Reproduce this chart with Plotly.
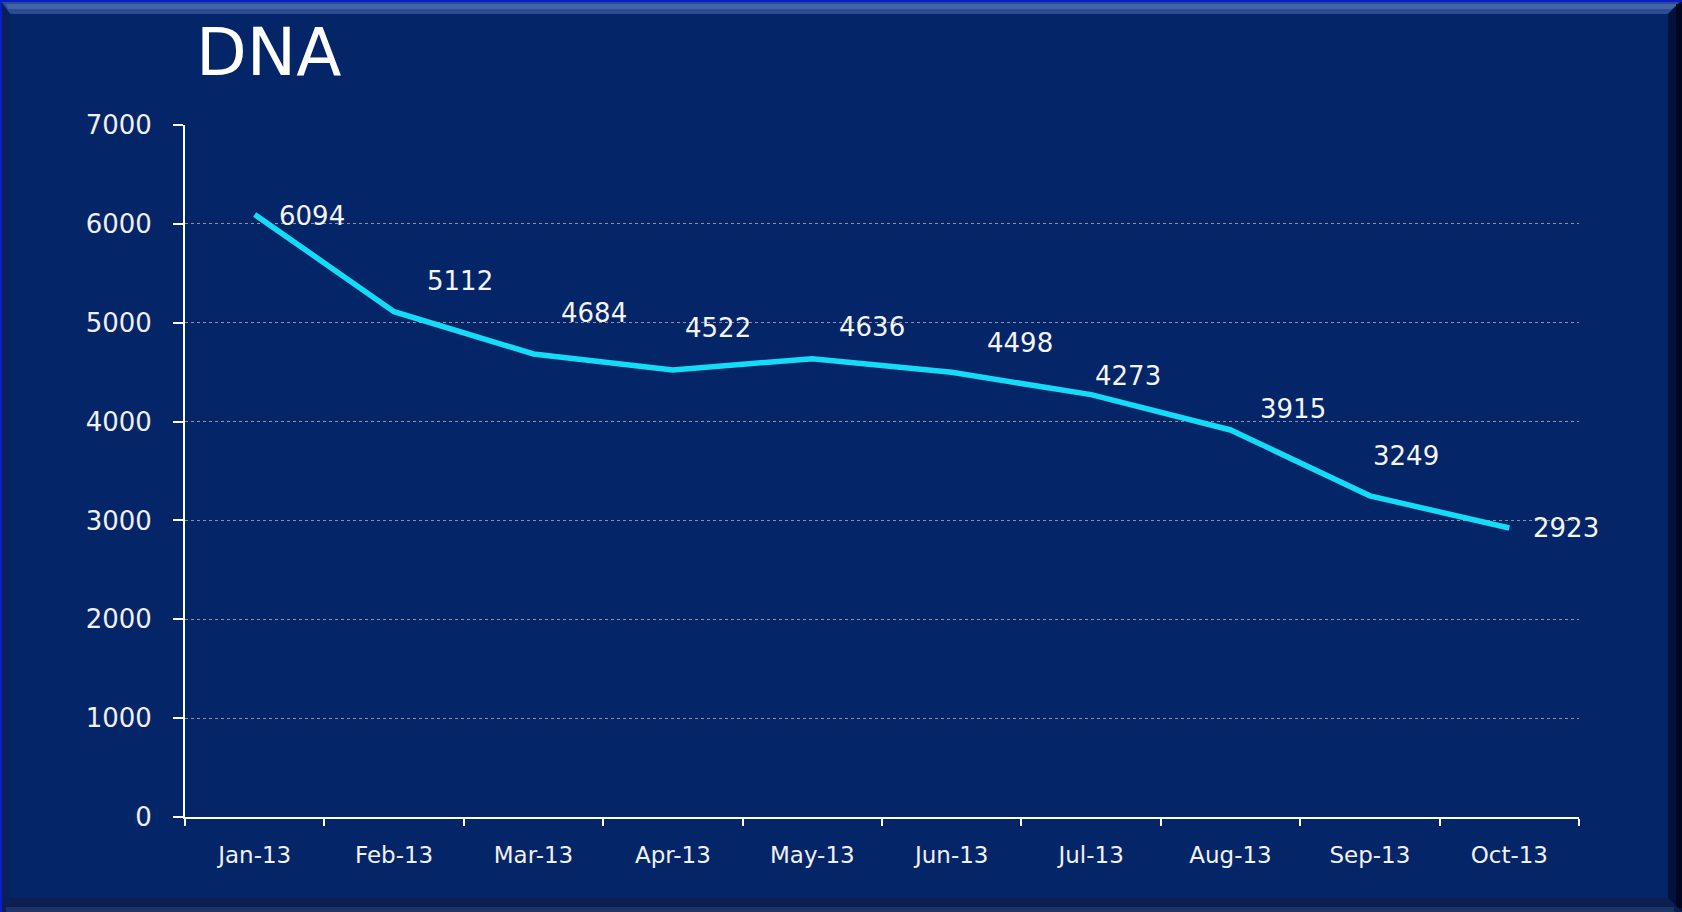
import plotly.graph_objects as go

months = ["Jan-13", "Feb-13", "Mar-13", "Apr-13", "May-13",
          "Jun-13", "Jul-13", "Aug-13", "Sep-13", "Oct-13"]
dna_counts = [6094, 5112, 4684, 4522, 4636, 4498, 4273, 3915, 3249, 2923]
y_ticks = [0, 1000, 2000, 3000, 4000, 5000, 6000, 7000]
chart_title = "DNA"

# label offsets in pixels (left edge x shift, vertical shift) - style only
label_dx = [22, 31, 25, 10, 25, 33, 2, 27, 1, 22]
label_dy = [-1, 31, 41, 42, 32, 29, 19, 21, 40, 0]

W, H = 1682, 912
L, R, T, B = 185, 1682 - 1579, 125, 912 - 817
PW, PH = W - L - R, H - T - B

def px(x):
    return (x - L) / PW

def py(y):
    return (H - B - y) / PH

BG = "#042568"
FONT = "DejaVu Sans"

fig = go.Figure()
fig.add_trace(go.Scatter(
    x=months, y=dna_counts, mode="lines",
    line=dict(color="#14DCF6", width=5.5),
    hoverinfo="x+y", showlegend=False,
))

annotations = []
for m, v, dx, dy in zip(months, dna_counts, label_dx, label_dy):
    annotations.append(dict(
        x=m, y=v, xref="x", yref="y", text=str(v), showarrow=False,
        xanchor="left", yanchor="middle", xshift=dx, yshift=dy,
        font=dict(family=FONT, size=26, color="#F4F4F4"),
    ))
annotations.append(dict(
    x=px(194), y=py(53), xref="paper", yref="paper", text=chart_title,
    showarrow=False, xanchor="left", yanchor="middle",
    font=dict(family=FONT, size=66, color="#FFFFFF"),
))

def path(points):
    s = "M " + " L ".join(f"{px(x):.6f},{py(y):.6f}" for x, y in points) + " Z"
    return s

shapes = []
# top bevel (lighter)
shapes.append(dict(type="path", xref="paper", yref="paper", layer="below",
                   path=path([(0, 0), (W, 0), (W - 14, 14), (10, 14)]),
                   fillcolor="#2b4b92", line=dict(width=0)))
shapes.append(dict(type="path", xref="paper", yref="paper", layer="below",
                   path=path([(6, 4), (W - 4, 4), (W - 10, 9), (8, 9)]),
                   fillcolor="#4163a8", line=dict(width=0)))
# left bevel
shapes.append(dict(type="path", xref="paper", yref="paper", layer="below",
                   path=path([(0, 0), (10, 14), (10, H - 14), (0, H)]),
                   fillcolor="#0a1f5c", line=dict(width=0)))
# right bevel (dark)
shapes.append(dict(type="path", xref="paper", yref="paper", layer="below",
                   path=path([(W, 0), (W - 14, 14), (W - 14, H - 14), (W, H)]),
                   fillcolor="#03123d", line=dict(width=0)))
shapes.append(dict(type="rect", xref="paper", yref="paper", layer="below",
                   x0=px(W - 6), x1=px(W), y0=py(H - 4), y1=py(4),
                   fillcolor="#010720", line=dict(width=0)))
# bottom bevel
shapes.append(dict(type="path", xref="paper", yref="paper", layer="below",
                   path=path([(0, H), (10, H - 14), (W - 14, H - 14), (W, H)]),
                   fillcolor="#0c1f52", line=dict(width=0)))
shapes.append(dict(type="rect", xref="paper", yref="paper", layer="below",
                   x0=px(6), x1=px(W - 8), y0=py(H), y1=py(H - 5),
                   fillcolor="#1f3466", line=dict(width=0)))
# outer bright lines
shapes.append(dict(type="rect", xref="paper", yref="paper", layer="below",
                   x0=px(0), x1=px(W), y0=py(2), y1=py(0),
                   fillcolor="#0a1ec8", line=dict(width=0)))
shapes.append(dict(type="rect", xref="paper", yref="paper", layer="below",
                   x0=px(0), x1=px(2), y0=py(H), y1=py(0),
                   fillcolor="#0a1ec8", line=dict(width=0)))

fig.update_layout(
    width=W, height=H,
    margin=dict(l=L, r=R, t=T, b=B, pad=0),
    paper_bgcolor=BG, plot_bgcolor=BG,
    font=dict(family=FONT, color="#F0F0F0"),
    annotations=annotations, shapes=shapes,
    xaxis=dict(
        type="category", categoryorder="array", categoryarray=months,
        range=[-0.5, len(months) - 0.5], showgrid=False, zeroline=False,
        showline=True, linecolor="#FFFFFF", linewidth=2,
        ticks="outside", tickson="boundaries", ticklen=7, tickwidth=2,
        tickcolor="#FFFFFF", ticklabelstandoff=16,
        tickfont=dict(family=FONT, size=23, color="#F0F0F0"),
    ),
    yaxis=dict(
        range=[0, 7000], tickvals=y_ticks, showgrid=True,
        gridcolor="#8a93a8", gridwidth=1, griddash="dot", zeroline=False,
        showline=True, linecolor="#FFFFFF", linewidth=2,
        ticks="outside", ticklen=10, tickwidth=2, tickcolor="#FFFFFF",
        ticklabelstandoff=16,
        tickfont=dict(family=FONT, size=26, color="#F0F0F0"),
    ),
)

fig.write_html(
    "out.html",
    config={"displayModeBar": False},
    post_script=(
        "document.documentElement.style.margin='0';"
        "document.documentElement.style.padding='0';"
        "document.documentElement.style.overflow='hidden';"
        "document.body.style.margin='0';"
        "document.body.style.padding='0';"
        "document.body.style.overflow='hidden';"
        "document.body.style.background='#042568';"
    ),
)
